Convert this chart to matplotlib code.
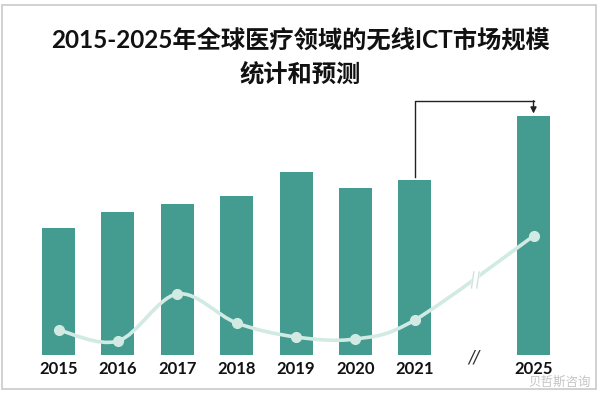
import matplotlib
matplotlib.use("Agg")
import matplotlib.pyplot as plt
from matplotlib.patches import Rectangle
from matplotlib.path import Path
from matplotlib.patches import PathPatch

# data (arbitrary units)
years = ["2015", "2016", "2017", "2018", "2019", "2020", "2021", "2025"]
slots = [0, 1, 2, 3, 4, 5, 6, 8]
market_size = [126.5, 142.5, 150.5, 158.8, 182.5, 166.8, 174.5, 238.5]
growth = [24.5, 13.5, 60.5, 31.5, 17.5, 15.5, 34.5, 118.5]

BAR = "#449b8f"
LINE = "#d2eae4"

W, H = 600, 393
fig = plt.figure(figsize=(W / 100, H / 100), dpi=100)
fig.patch.set_facecolor("white")

# axes placed in pixel terms
left_px, right_px = 10, 590
base_px, ymax = 354.5, 260
unit = (533.5 - 58.6) / 8
xmin = -(58.6 - left_px) / unit
xmax = 8 + (right_px - 533.5) / unit
ax = fig.add_axes([left_px / W, (H - base_px) / H, (right_px - left_px) / W, ymax / H])
ax.set_xlim(xmin, xmax)
ax.set_ylim(0, ymax)
for s in ax.spines.values():
    s.set_visible(False)
ax.set_yticks([])

ax.bar(slots, market_size, width=0.556, color=BAR, zorder=2)

ax.set_xticks(slots)
ax.set_xticklabels(years, fontsize=12, fontweight="bold", family="Lato", color="#111111")
ax.tick_params(axis="x", length=0, pad=5)
ax.text(7, -3, "//", ha="center", va="center", fontsize=12, style="italic",
        color="#333333", family="DejaVu Sans")

# smoothed growth line (Catmull-Rom as cubic Bezier through the data points)
pts = list(zip(slots, growth))
verts = [pts[0]]
codes = [Path.MOVETO]
for i in range(len(pts) - 1):
    p0 = pts[i - 1] if i > 0 else pts[i]
    p1 = pts[i]
    p2 = pts[i + 1]
    p3 = pts[i + 2] if i + 2 < len(pts) else pts[i + 1]
    c1 = (p1[0] + (p2[0] - p0[0]) / 6, p1[1] + (p2[1] - p0[1]) / 6)
    c2 = (p2[0] - (p3[0] - p1[0]) / 6, p2[1] - (p3[1] - p1[1]) / 6)
    verts += [c1, c2, p2]
    codes += [Path.CURVE4] * 3
ax.add_patch(PathPatch(Path(verts, codes), facecolor="none", edgecolor=LINE,
                       linewidth=2.6, zorder=3, capstyle="round"))
ax.plot(slots, growth, linestyle="none", marker="o", markersize=7,
        color=LINE, zorder=4)

# break mark on the line between 2021 and 2025
bx, by = 7.02, 74.5
ax.plot([bx - 0.03, bx + 0.03], [by - 9, by + 9], color="white", linewidth=5, zorder=5)
for dx in (-0.045, 0.045):
    ax.plot([bx + dx - 0.02, bx + dx + 0.02], [by - 8, by + 8], color="#cfe3de",
            linewidth=1.0, zorder=6)

# elbow arrow from 2021 to 2025
top = 253.8
ax.plot([6, 6, 8], [market_size[6] + 3, top, top], color="#222222", linewidth=1.0, zorder=5)
ax.annotate("", xy=(8, market_size[7] + 2.5), xytext=(8, top),
            arrowprops=dict(arrowstyle="-|>", color="#222222", lw=1.0, mutation_scale=9,
                            shrinkA=0, shrinkB=0), zorder=5)

# title
fam = ["Lato", "Noto Sans CJK SC"]
fig.text(0.5, 1 - 40 / H, "2015-2025年全球医疗领域的无线ICT市场规模", ha="center", va="center",
         fontsize=17.5, fontweight="bold", family=fam, color="#111111")
fig.text(0.5, 1 - 74 / H, "统计和预测", ha="center", va="center",
         fontsize=17.5, fontweight="bold", family=fam, color="#111111")

# watermark
fig.text(560 / W, 1 - 382.5 / H, "贝哲斯咨询", ha="center", va="center", fontsize=9,
         family="Noto Sans CJK SC", color="#c4c4c4")

# outer frame
fig.patches.append(Rectangle((2 / W, 4 / H), 594 / W, 384 / H, transform=fig.transFigure,
                             fill=False, edgecolor="#c9c9c9", linewidth=1.2))

fig.savefig("out.png", dpi=100, facecolor="white")
